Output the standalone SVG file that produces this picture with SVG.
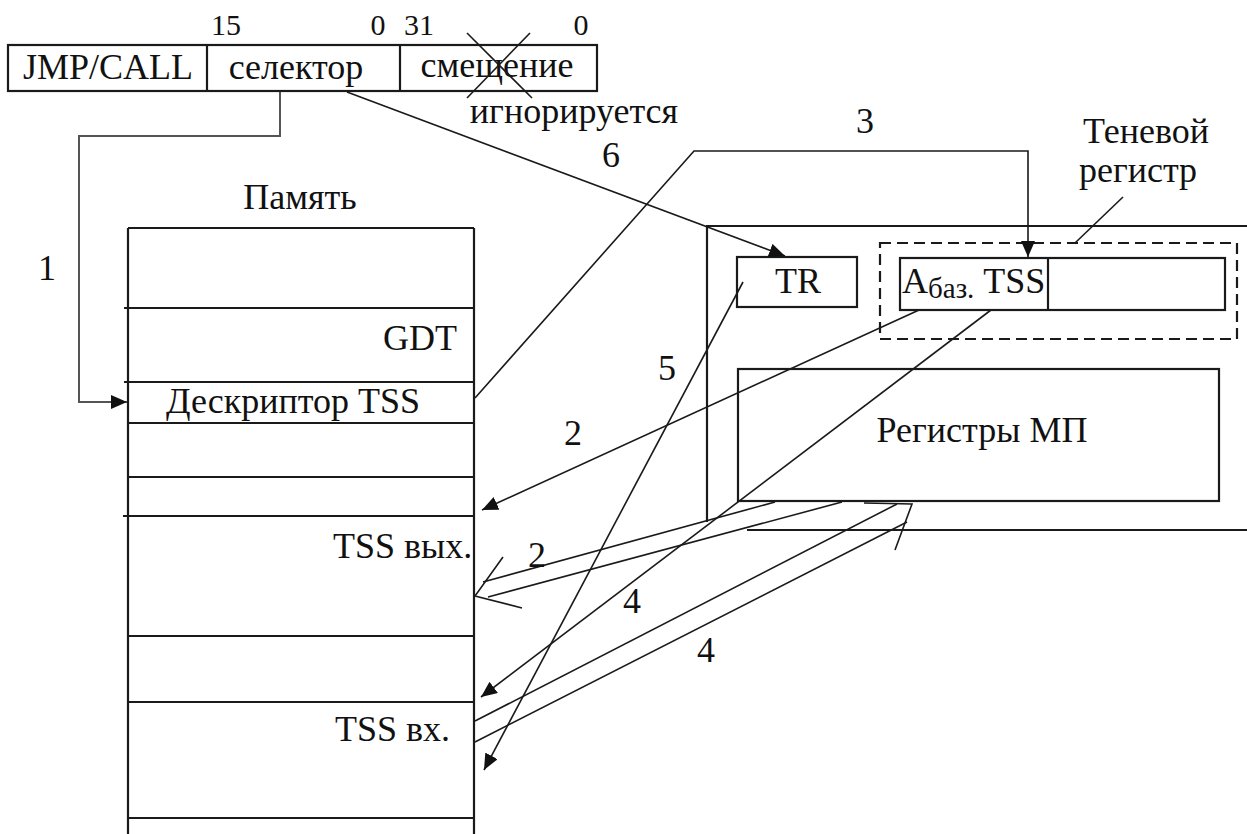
<svg xmlns="http://www.w3.org/2000/svg" width="1247" height="834" viewBox="0 0 1247 834">
<style>
.t{font-family:"Liberation Serif","Times New Roman",serif;font-size:36px;fill:#111}
.n{font-family:"Liberation Serif","Times New Roman",serif;font-size:30px;fill:#111}
.box{fill:none;stroke:#1a1a1a;stroke-width:2.2}
.ln{fill:none;stroke:#1a1a1a;stroke-width:1.6}
.c{text-anchor:middle}
.e{text-anchor:end}
</style>
<defs>
<marker id="ah" viewBox="0 0 16 14" refX="16" refY="7" markerWidth="16" markerHeight="14" markerUnits="userSpaceOnUse" orient="auto">
<path d="M0,0 L16,7 L0,14 Z" fill="#111"/>
</marker>
</defs>
<rect width="1247" height="834" fill="#fff"/>

<g id="instruction">
<rect class="box" x="8" y="45" width="589" height="46"/>
<line class="box" x1="207" y1="45" x2="207" y2="91"/>
<line class="box" x1="400" y1="45" x2="400" y2="91"/>
<text class="t c" x="108" y="79">JMP/CALL</text>
<text class="t c" x="296" y="79">селектор</text>
<text class="t c" x="497" y="77">смещение</text>
<line class="ln" x1="467" y1="33" x2="532" y2="98"/>
<line class="ln" x1="530" y1="33" x2="467" y2="98"/>
<text class="n c" x="226" y="35">15</text>
<text class="n c" x="378" y="35">0</text>
<text class="n c" x="419" y="35">31</text>
<text class="n c" x="581" y="35">0</text>
<text class="t c" x="574" y="123">игнорируется</text>
</g>

<g id="memory">
<text class="t c" x="300" y="209">Память</text>
<line class="box" x1="128" y1="228" x2="128" y2="834"/>
<line class="box" x1="474" y1="228" x2="474" y2="834"/>
<line class="box" x1="128" y1="228" x2="474" y2="228"/>
<line class="box" x1="124" y1="308" x2="474" y2="308"/>
<line class="box" x1="124" y1="382" x2="474" y2="382"/>
<line class="box" x1="128" y1="423" x2="474" y2="423"/>
<line class="box" x1="128" y1="477" x2="474" y2="477"/>
<line class="box" x1="123" y1="516" x2="474" y2="516"/>
<line class="box" x1="128" y1="636" x2="474" y2="636"/>
<line class="box" x1="128" y1="702" x2="474" y2="702"/>
<line class="box" x1="128" y1="818" x2="474" y2="818"/>
<text class="t e" x="457" y="350">GDT</text>
<text class="t c" x="293" y="413">Дескриптор TSS</text>
<text class="t" x="333" y="558">TSS вых.</text>
<text class="t" x="335" y="741">TSS вх.</text>
</g>

<g id="processor">
<path class="box" d="M1247,226 L707,226 L707,522"/>
<line class="box" x1="747" y1="530" x2="1247" y2="530"/>
<rect class="box" x="737" y="257" width="120" height="50"/>
<text class="t c" x="798" y="293">TR</text>
<rect x="880" y="243" width="357" height="96" fill="none" stroke="#1a1a1a" stroke-width="2.2" stroke-dasharray="11,6"/>
<rect class="box" x="900" y="258" width="325" height="52"/>
<line class="box" x1="1048" y1="258" x2="1048" y2="310"/>
<text class="t" x="902" y="293">A<tspan font-size="29" dy="5">баз.</tspan><tspan dy="-5"> TSS</tspan></text>
<rect class="box" x="738" y="369" width="481" height="132"/>
<text class="t c" x="982" y="442">Регистры МП</text>
<text class="t c" x="1146" y="143">Теневой</text>
<text class="t c" x="1138" y="182">регистр</text>
<line class="ln" x1="1123" y1="197" x2="1075" y2="243"/>
</g>

<g id="connectors">
<polyline points="280,92 280,136 79,136 79,402 127,402" fill="none" stroke="#555" stroke-width="2" marker-end="url(#ah)"/>
<line class="ln" x1="347" y1="92" x2="785" y2="256" marker-end="url(#ah)"/>
<polyline class="ln" points="475,398 694,151 1028,151 1028,257" marker-end="url(#ah)"/>
<line class="ln" x1="919" y1="310" x2="482" y2="510" marker-end="url(#ah)"/>
<line class="ln" x1="991" y1="310" x2="481" y2="697" marker-end="url(#ah)"/>
<line class="ln" x1="743" y1="282" x2="484" y2="770" marker-end="url(#ah)"/>
<!-- wide arrow 2 -->
<line class="ln" x1="775" y1="502" x2="483" y2="582"/>
<line class="ln" x1="842" y1="502" x2="488" y2="597"/>
<polyline class="ln" points="503,557 475,596 522,608"/>
<!-- wide arrow 4 -->
<line class="ln" x1="475" y1="721" x2="897" y2="504"/>
<line class="ln" x1="475" y1="742" x2="907" y2="522"/>
<polyline class="ln" points="864,503 912,504 895,550"/>
<text class="t c" x="47" y="280">1</text>
<text class="t c" x="611" y="167">6</text>
<text class="t c" x="865" y="133">3</text>
<text class="t c" x="667" y="380">5</text>
<text class="t c" x="573" y="445">2</text>
<text class="t c" x="537" y="567">2</text>
<text class="t c" x="632" y="613">4</text>
<text class="t c" x="706" y="662">4</text>
</g>
</svg>
